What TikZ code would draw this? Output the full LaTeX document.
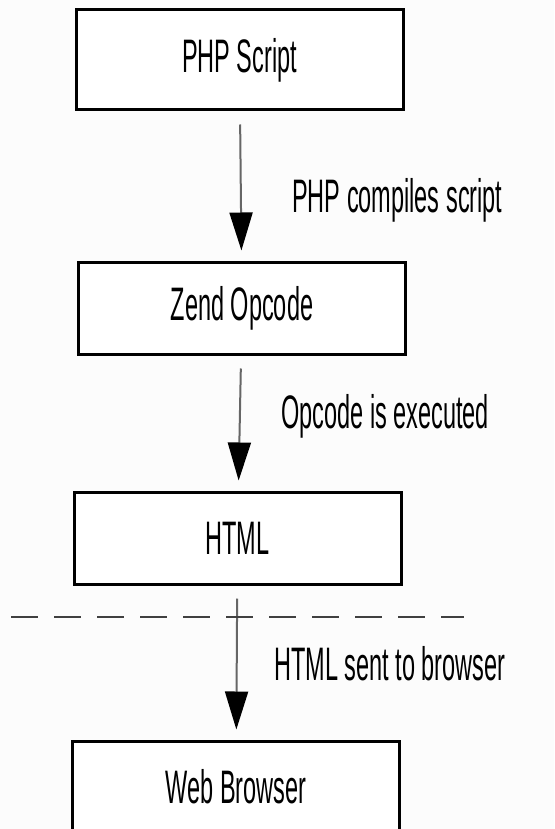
\documentclass[tikz,border=0pt]{standalone}
\usepackage{fontspec}
\setmainfont{Liberation Sans}[FakeStretch=0.5]
\usetikzlibrary{positioning}
\usetikzlibrary{arrows.meta}

\begin{document}
\begin{tikzpicture}[
    x=1pt, y=-1pt,
    every node/.style={font=\fontsize{47}{50}\selectfont},
    box/.style={draw, line width=3pt, fill=white, minimum width=327pt, minimum height=92pt, inner sep=0pt},
    flow/.style={-{Triangle[width=23pt, length=38pt, color=black]}, line width=2pt, draw=black!60,
                 shorten <=13pt, shorten >=10pt},
    note/.style={anchor=base west, inner sep=0pt},
    cutline/.style={line width=2pt, draw=black!75, dash pattern=on 27pt off 16pt}
  ]
  \clip (0,0) rectangle (554,829);
  \fill[black!1] (0,0) rectangle (554,829);

  \node[box, minimum height=100pt] (php) at (239.5,60) {PHP Script};
  \node[box] (zend) [below=149pt of php, xshift=2.5pt] {Zend Opcode};
  \node[box] (html) [below=135pt of zend, xshift=-4.5pt] {HTML};
  \node[box] (web) [below=154pt of html, xshift=-1.5pt] {Web Browser};

  \draw[flow] (php) -- (zend);
  \draw[flow] (zend) -- (html);
  \draw[flow] (html) -- (web);

  \coordinate (cutL) at (11,617);
  \coordinate (cutR) at (464,617);
  \draw[cutline] (cutL) -- (cutR);

  \node[note] (compile) at (292,212) {PHP compiles script};
  \node[note] (execute) at (281,428) {Opcode is executed};
  \node[note] (send) at (274,680) {HTML sent to browser};
\end{tikzpicture}
\end{document}
